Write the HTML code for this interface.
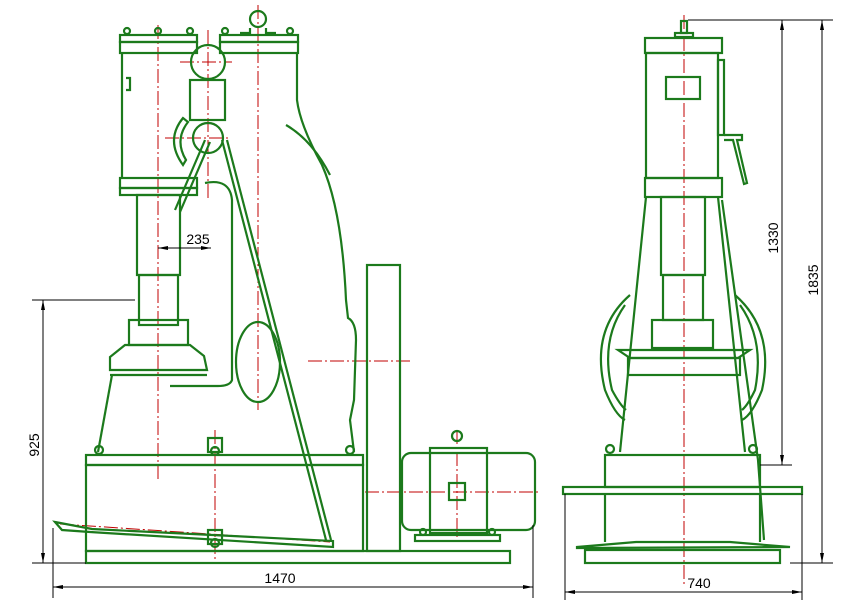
<!DOCTYPE html>
<html><head><meta charset="utf-8"><style>
html,body{margin:0;padding:0;background:#fff}
svg{display:block}
text{font-family:"Liberation Sans",sans-serif;font-size:14px;fill:#000}
</style></head><body>
<svg width="843" height="606" viewBox="0 0 843 606" xmlns="http://www.w3.org/2000/svg">
<defs><marker id="a" viewBox="0 0 10 4" refX="10" refY="2" markerWidth="10" markerHeight="4" orient="auto-start-reverse" markerUnits="userSpaceOnUse"><path d="M0,0 L10,2 L0,4 Z" fill="#000"/></marker></defs>
<g fill="none" stroke="#c00000" stroke-width="1" stroke-dasharray="14,3,2,3">
<line x1="158" y1="25" x2="158" y2="480"/>
<line x1="258" y1="5" x2="258" y2="410"/>
<line x1="208" y1="30" x2="208" y2="200"/>
<line x1="180" y1="62" x2="232" y2="62"/>
<line x1="165" y1="138" x2="230" y2="138"/>
<line x1="308" y1="361" x2="410" y2="361"/>
<line x1="365" y1="492" x2="540" y2="492"/>
<line x1="457" y1="430" x2="457" y2="540"/>
<line x1="60" y1="524" x2="330" y2="542"/>
<line x1="684" y1="15" x2="684" y2="585"/>
<line x1="215" y1="430" x2="215" y2="560"/>
</g>
<g fill="none" stroke="#1c7a1c" stroke-width="2.2">
<circle cx="258" cy="19" r="8"/>
<path d="M250,28 L250,33 L240,33 M266,28 L266,33 L276,33"/>
<rect x="120" y="35" width="77" height="7"/><rect x="120" y="42" width="77" height="11"/>
<rect x="220" y="35" width="78" height="7"/><rect x="220" y="42" width="78" height="11"/>
<circle cx="127" cy="31" r="3"/><circle cx="158" cy="31" r="3"/><circle cx="190" cy="31" r="3"/><circle cx="225" cy="31" r="3"/><circle cx="290" cy="31" r="3"/>
<line x1="122" y1="53" x2="122" y2="178"/>
<path d="M126,78 L130,78 L130,90 L126,90"/>
<circle cx="208" cy="62" r="17"/>
<rect x="190" y="80" width="35" height="40"/>
<circle cx="208" cy="138" r="15"/>
<path d="M183,118 Q165,140 183,165 L186,160 Q174,140 188,122 Z"/>
<line x1="175" y1="210" x2="205" y2="140"/><line x1="180" y1="212" x2="210" y2="142"/>
<line x1="222" y1="140" x2="326" y2="540"/><line x1="227" y1="140" x2="331" y2="540"/>
<rect x="120" y="178" width="77" height="10"/><rect x="120" y="188" width="77" height="7"/>
<path d="M297,53 L297,100 Q300,125 322,165 Q342,210 346,300 L348,318 Q356,322 356,340 L354,400 L350,420 L354,452"/>
<path d="M286,125 Q312,140 330,175"/>
<path d="M205,183 Q230,178 232,200 L232,380 Q230,386 218,386 L170,386"/>
<rect x="137" y="195" width="43" height="80"/>
<rect x="139" y="275" width="39" height="50"/>
<rect x="129" y="320" width="59" height="25"/>
<path d="M125,345 L190,345 L204,356 L207,370 L110,370 L110,357 Z"/>
<line x1="110" y1="375" x2="207" y2="375"/>
<path d="M112,375 L98,452"/>
<ellipse cx="258" cy="362" rx="22" ry="40"/>
<rect x="86" y="455" width="277" height="10"/>
<rect x="86" y="465" width="277" height="86"/>
<rect x="86" y="551" width="424" height="12"/>
<circle cx="99" cy="450" r="4"/><circle cx="350" cy="450" r="4"/><circle cx="215" cy="451" r="4"/>
<rect x="208" y="438" width="14" height="14"/>
<path d="M55,522 L92,529 L333,541 L333,547 L90,532 L62,530 Z"/>
<rect x="208" y="530" width="14" height="14"/><circle cx="215" cy="543" r="4"/>
<rect x="367" y="265" width="33" height="286"/>
<rect x="402" y="453" width="133" height="77" rx="9"/>
<rect x="430" y="448" width="57" height="85"/>
<rect x="449" y="483" width="16" height="17"/>
<circle cx="457" cy="436" r="5"/>
<rect x="415" y="535" width="85" height="6"/>
<circle cx="423" cy="532" r="3"/><circle cx="492" cy="532" r="3"/>
<rect x="681" y="21" width="6" height="12"/>
<rect x="675" y="33" width="18" height="4"/>
<rect x="645" y="38" width="77" height="15"/>
<rect x="646" y="53" width="72" height="125"/>
<rect x="666" y="77" width="34" height="22"/>
<rect x="718" y="60" width="6" height="75"/>
<path d="M724,135 L742,135 L742,140 L737,140 L747,183 L744,184 L733,140 L724,140"/>
<rect x="645" y="178" width="77" height="19"/>
<path d="M646,197 L620,452 M718,197 L745,452"/>
<path d="M722,200 L758,460 L764,540"/>
<rect x="661" y="197" width="44" height="78"/>
<rect x="663" y="275" width="40" height="45"/>
<rect x="652" y="320" width="61" height="28"/>
<path d="M618,350 L750,350 L738,358 L630,358 Z"/>
<rect x="628" y="358" width="112" height="17"/>
<path d="M630,295 Q590,330 605,390 Q615,415 625,420"/>
<path d="M625,305 Q600,340 612,390 Q620,405 626,410"/>
<path d="M735,295 Q775,330 762,390 Q752,415 742,420"/>
<path d="M740,305 Q765,340 755,390 Q748,405 742,410"/>
<circle cx="610" cy="449" r="4"/><circle cx="753" cy="449" r="4"/>
<rect x="605" y="455" width="155" height="32"/>
<rect x="563" y="487" width="239" height="7"/>
<line x1="605" y1="494" x2="605" y2="542"/><line x1="760" y1="494" x2="760" y2="542"/>
<path d="M577,547 L636,542 L730,542 L790,547 L577,548 Z"/>
<rect x="585" y="550" width="195" height="13"/>
</g>
<g stroke="#000" stroke-width="1" fill="none">
<line x1="32" y1="300" x2="135" y2="300"/>
<line x1="32" y1="563" x2="86" y2="563"/>
<line x1="43" y1="300" x2="43" y2="563" marker-start="url(#a)" marker-end="url(#a)"/>
<line x1="53" y1="528" x2="53" y2="598"/>
<line x1="533" y1="525" x2="533" y2="598"/>
<line x1="53" y1="587" x2="533" y2="587" marker-start="url(#a)" marker-end="url(#a)"/>
<line x1="158" y1="248" x2="211" y2="248" marker-start="url(#a)" marker-end="url(#a)"/>
<line x1="688" y1="20" x2="833" y2="20"/>
<line x1="760" y1="465" x2="792" y2="465"/>
<line x1="790" y1="563" x2="833" y2="563"/>
<line x1="782" y1="20" x2="782" y2="465" marker-start="url(#a)" marker-end="url(#a)"/>
<line x1="822" y1="20" x2="822" y2="563" marker-start="url(#a)" marker-end="url(#a)"/>
<line x1="565" y1="494" x2="565" y2="600"/>
<line x1="802" y1="494" x2="802" y2="600"/>
<line x1="565" y1="592" x2="802" y2="592" marker-start="url(#a)" marker-end="url(#a)"/>
</g>
<text x="198" y="244" text-anchor="middle">235</text>
<text x="280" y="583" text-anchor="middle">1470</text>
<text x="699" y="588" text-anchor="middle">740</text>
<text transform="translate(39,445) rotate(-90)" text-anchor="middle">925</text>
<text transform="translate(778,238) rotate(-90)" text-anchor="middle">1330</text>
<text transform="translate(818,280) rotate(-90)" text-anchor="middle">1835</text>
</svg>
</body></html>
